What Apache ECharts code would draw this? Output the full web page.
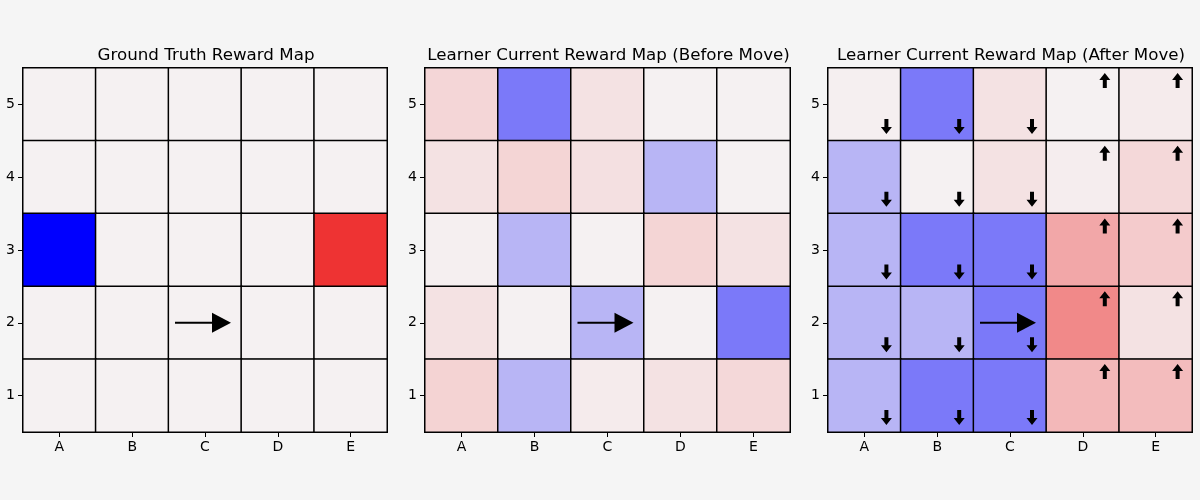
<!DOCTYPE html>
<html>
<head>
<meta charset="utf-8">
<script src="https://cdn.jsdelivr.net/npm/echarts@6/dist/echarts.min.js"></script>
<style>
html,body{margin:0;padding:0;background:#f5f5f5;}
#chart{width:1200px;height:500px;}
</style>
</head>
<body>
<div id="chart"></div>
<script>
// ---------- data ----------
const cols = ['A', 'B', 'C', 'D', 'E'];
const rows = ['1', '2', '3', '4', '5'];
const titles = ['Ground Truth Reward Map', 'Learner Current Reward Map (Before Move)', 'Learner Current Reward Map (After Move)'];
// reward grids, listed from top row (5) to bottom row (1), columns A..E
const truthRewards = [
  [0, 0, 0, 0, 0],
  [0, 0, 0, 0, 0],
  [-1, 0, 0, 0, 1],
  [0, 0, 0, 0, 0],
  [0, 0, 0, 0, 0]
];
const beforeRewards = [
  [0.14, -0.5, 0.08, 0, 0],
  [0.08, 0.15, 0.09, -0.25, 0],
  [0.01, -0.25, 0, 0.15, 0.08],
  [0.08, 0, -0.25, 0, -0.5],
  [0.16, -0.25, 0.03, 0.08, 0.13]
];
const afterRewards = [
  [0.01, -0.5, 0.08, 0, 0.03],
  [-0.25, 0, 0.08, 0.02, 0.13],
  [-0.25, -0.5, -0.5, 0.39, 0.2],
  [-0.25, -0.25, -0.5, 0.55, 0.08],
  [-0.25, -0.5, -0.5, 0.3, 0.28]
];
// agent position and move arrow
const agentCell = ['C', '2'];
// policy arrows in the "after move" map, per column
const policyDirs = ['down', 'down', 'down', 'up', 'up'];

// ---------- build ----------
const grids = [
  {left: 23, top: 68, width: 364, height: 364},
  {left: 425, top: 68, width: 365, height: 364},
  {left: 828, top: 68, width: 364, height: 364}
];
const FONT = 'DejaVu Sans';

function toHeat(grid) {
  const out = [];
  grid.forEach((row, ri) => {
    const r = rows[rows.length - 1 - ri];
    row.forEach((v, ci) => out.push([cols[ci], r, v]));
  });
  return out;
}

const rewardSets = [truthRewards, beforeRewards, afterRewards];

const xAxes = [], yAxes = [], series = [], visualMaps = [], titleArr = [];
grids.forEach((g, i) => {
  titleArr.push({
    text: titles[i],
    left: g.left + g.width / 2 - 4,
    top: 42,
    textAlign: 'center',
    textStyle: {fontFamily: FONT, fontSize: 16.7, fontWeight: 'normal', color: '#000'}
  });
  xAxes.push({
    type: 'category', gridIndex: i, data: cols,
    axisLine: {show: true, lineStyle: {color: '#000', width: 1}},
    axisTick: {show: true, alignWithLabel: true, length: 5, lineStyle: {color: '#000'}},
    axisLabel: {fontFamily: FONT, fontSize: 14, color: '#000', margin: 8},
    splitLine: {show: false}
  });
  yAxes.push({
    type: 'category', gridIndex: i, data: rows,
    axisLine: {show: true, lineStyle: {color: '#000', width: 1}},
    axisTick: {show: true, alignWithLabel: true, length: 5, lineStyle: {color: '#000'}},
    axisLabel: {fontFamily: FONT, fontSize: 14, color: '#000', margin: 8},
    splitLine: {show: false}
  });
  series.push({
    type: 'heatmap', xAxisIndex: i, yAxisIndex: i,
    data: toHeat(rewardSets[i]),
    itemStyle: {borderColor: '#000', borderWidth: 1.5},
    emphasis: {disabled: true},
    silent: true
  });
  visualMaps.push({
    type: 'continuous', show: false, seriesIndex: series.length - 1,
    min: -1, max: 1, dimension: 2,
    inRange: {color: ['#0000ff', '#f5f1f2', '#ee3333']}
  });
});

// agent move arrow on all three maps
grids.forEach((g, i) => {
  series.push({
    type: 'custom', xAxisIndex: i, yAxisIndex: i,
    data: [agentCell], silent: true, z: 10,
    renderItem: function (params, api) {
      const p = api.coord([api.value(0), api.value(1)]);
      const cx = p[0], cy = p[1];
      return {
        type: 'group',
        children: [
          {type: 'line', shape: {x1: cx - 30, y1: cy, x2: cx + 8, y2: cy},
           style: {stroke: '#000', lineWidth: 2}},
          {type: 'polygon', shape: {points: [[cx + 7, cy - 10], [cx + 26, cy], [cx + 7, cy + 10]]},
           style: {fill: '#000'}}
        ]
      };
    }
  });
});

// policy arrows in after-move map
const arrowDown = 'path://M3.5,0 L7.5,0 L7.5,8 L11,8 L5.5,15 L0,8 L3.5,8 Z';
const arrowUp = 'path://M5.5,0 L11,7 L7.5,7 L7.5,15 L3.5,15 L3.5,7 L0,7 Z';
const downPts = [], upPts = [];
rows.forEach(r => cols.forEach((c, ci) => {
  (policyDirs[ci] === 'down' ? downPts : upPts).push([c, r]);
}));
series.push({
  type: 'scatter', xAxisIndex: 2, yAxisIndex: 2, data: downPts, silent: true, z: 11,
  symbol: arrowDown, symbolSize: [11, 15], symbolOffset: [22, 22],
  itemStyle: {color: '#000', opacity: 1}
});
series.push({
  type: 'scatter', xAxisIndex: 2, yAxisIndex: 2, data: upPts, silent: true, z: 11,
  symbol: arrowUp, symbolSize: [11, 15], symbolOffset: [22, -24],
  itemStyle: {color: '#000', opacity: 1}
});

const chart = echarts.init(document.getElementById('chart'), null, {renderer: 'canvas'});
chart.setOption({
  backgroundColor: '#f5f5f5',
  animation: false,
  title: titleArr,
  grid: grids,
  xAxis: xAxes,
  yAxis: yAxes,
  visualMap: visualMaps,
  series: series
});
</script>
</body>
</html>
